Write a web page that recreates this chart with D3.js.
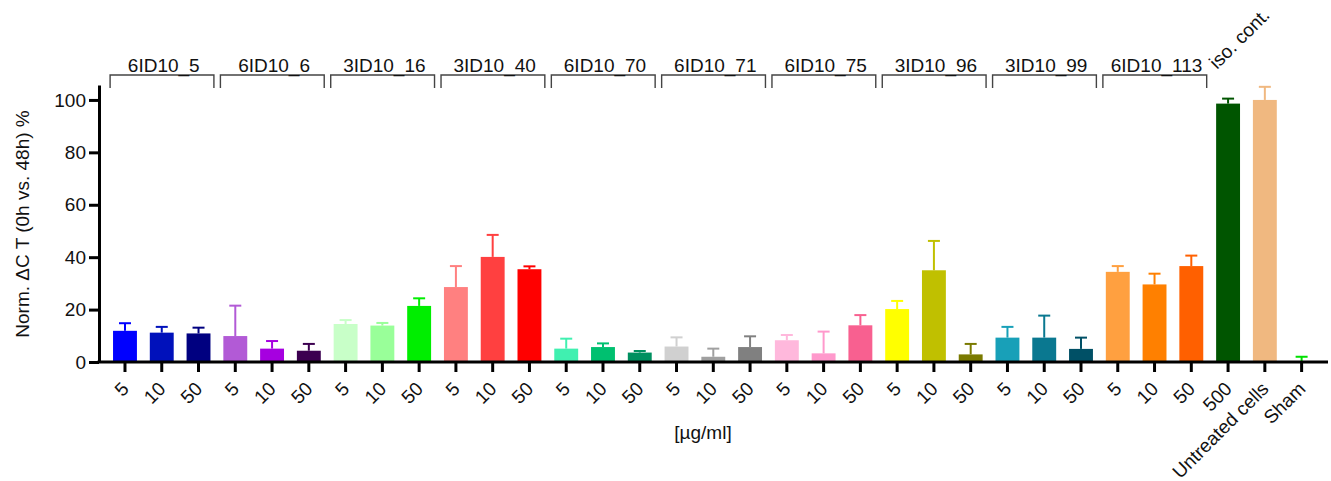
<!DOCTYPE html>
<html>
<head>
<meta charset="utf-8">
<script src="https://cdn.jsdelivr.net/npm/d3@7"></script>
<style>
  body { margin: 0; background: #fff; }
  text { font-family: Arial, "Liberation Sans", sans-serif; fill: #111; }
</style>
</head>
<body>
<div id="chart"></div>
<script>
var w = 1331, h = 481;

// data
var groupNames = ["6ID10_5", "6ID10_6", "3ID10_16", "3ID10_40", "6ID10_70",
                  "6ID10_71", "6ID10_75", "3ID10_96", "3ID10_99", "6ID10_113"];
var tickLabels = ["5", "10", "50", "5", "10", "50", "5", "10", "50", "5", "10", "50",
                  "5", "10", "50", "5", "10", "50", "5", "10", "50", "5", "10", "50",
                  "5", "10", "50", "5", "10", "50", "500", "Untreated cells", "Sham"];
var means = [11.9, 11.2, 10.9, 9.9, 5.1, 4.3, 14.5, 13.9, 21.4, 28.6, 40.1, 35.4,
             5.1, 5.7, 3.6, 5.9, 2.0, 5.7, 8.3, 3.3, 14.0, 20.2, 35.0, 2.9,
             9.3, 9.3, 5.0, 34.4, 29.6, 36.6, 98.6, 100, 0];
var sds = [2.9, 2.2, 2.2, 11.6, 2.9, 2.6, 1.5, 1.0, 2.9, 8.0, 8.4, 1.1,
           3.8, 1.4, 0.6, 3.5, 3.1, 4.1, 2.0, 8.3, 3.9, 3.1, 11.2, 4.0,
           4.1, 8.4, 4.3, 2.2, 4.1, 4.0, 1.9, 5.0, 2.0];
var colors = ["#0000ff", "#0011bb", "#000080", "#b25ad6", "#a600e0", "#3c0050",
              "#c8ffc8", "#99ff99", "#00ee00", "#ff8080", "#ff4040", "#ff0000",
              "#40f0b0", "#00c070", "#009060", "#d0d0d0", "#a0a0a0", "#808080",
              "#ffb8dc", "#ff99cc", "#f86090", "#ffff00", "#c0c000", "#7a7a00",
              "#18a0b8", "#0a7890", "#005066", "#ffa040", "#ff8000", "#ff6000",
              "#005500", "#f0b880", "#00e000"];
var yTicks = [0, 20, 40, 60, 80, 100];

var bars = means.map(function(m, i) {
    return { i: i, label: tickLabels[i], mean: m, sd: sds[i], color: colors[i] };
});

var svg = d3.select("#chart")
    .append("svg")
    .attr("width", w)
    .attr("height", h);

var x = d3.scaleBand()
    .domain(d3.range(bars.length))
    .range([106.6, 1320])
    .paddingInner(0.35)
    .paddingOuter(0.175);

var y = d3.scaleLinear()
    .domain([0, 105.7])
    .range([362, 85]);

var xc = function(i) { return x(i) + x.bandwidth() / 2; };

// bars
svg.append("g")
    .selectAll("rect")
    .data(bars)
    .enter()
    .append("rect")
    .attr("x", function(d) { return x(d.i); })
    .attr("y", function(d) { return y(d.mean); })
    .attr("width", x.bandwidth())
    .attr("height", function(d) { return y(0) - y(d.mean); })
    .attr("fill", function(d) { return d.color; });

// error bars (upper only)
var eb = svg.append("g")
    .selectAll("g")
    .data(bars)
    .enter()
    .append("g")
    .attr("stroke", function(d) { return d.color; })
    .attr("stroke-width", 2);
eb.append("line")
    .attr("x1", function(d) { return xc(d.i); })
    .attr("x2", function(d) { return xc(d.i); })
    .attr("y1", function(d) { return y(d.mean); })
    .attr("y2", function(d) { return y(d.mean + d.sd); });
eb.append("line")
    .attr("x1", function(d) { return xc(d.i) - 6; })
    .attr("x2", function(d) { return xc(d.i) + 6; })
    .attr("y1", function(d) { return y(d.mean + d.sd); })
    .attr("y2", function(d) { return y(d.mean + d.sd); });

// y axis
var yAxis = d3.axisLeft(y)
    .tickValues(yTicks)
    .tickSize(10)
    .tickPadding(3)
    .tickSizeOuter(0);
var gy = svg.append("g")
    .attr("transform", "translate(99,0)")
    .call(yAxis);
gy.select(".domain").attr("stroke", "#000").attr("stroke-width", 3);
gy.selectAll(".tick line").attr("stroke", "#000").attr("stroke-width", 3);
gy.selectAll(".tick text")
    .style("font-size", "19px")
    .style("font-family", "Arial, 'Liberation Sans', sans-serif")
    .attr("fill", "#111");

// x axis
var xAxis = d3.axisBottom(x)
    .tickSize(10)
    .tickFormat(function(i) { return tickLabels[i]; });
var gx = svg.append("g")
    .attr("transform", "translate(0," + y(0) + ")")
    .call(xAxis);
gx.select(".domain").remove();
gx.selectAll(".tick line").attr("stroke", "#000").attr("stroke-width", 3);
gx.selectAll(".tick text")
    .attr("y", 0)
    .attr("dy", 0)
    .attr("transform", "translate(5,28) rotate(-45)")
    .style("text-anchor", "end")
    .style("font-size", "19px")
    .style("font-family", "Arial, 'Liberation Sans', sans-serif")
    .attr("fill", "#111");
svg.append("line")
    .attr("x1", 97.5)
    .attr("x2", 1328)
    .attr("y1", y(0))
    .attr("y2", y(0))
    .attr("stroke", "#000")
    .attr("stroke-width", 3);

// group brackets and names
var step = x.step();
var br = svg.append("g")
    .selectAll("g")
    .data(groupNames)
    .enter()
    .append("g");
br.append("path")
    .attr("d", function(d, g) {
        var x0 = xc(g * 3) - step / 2 + 3.5;
        var x1 = xc(g * 3 + 2) + step / 2 - 3;
        return "M" + x0 + ",88V75H" + x1 + "V88";
    })
    .attr("fill", "none")
    .attr("stroke", "#444")
    .attr("stroke-width", 1.4);
br.append("text")
    .attr("x", function(d, g) { return xc(g * 3 + 1) + 2; })
    .attr("y", 72)
    .attr("text-anchor", "middle")
    .style("font-size", "19px")
    .text(function(d) { return d; });

svg.append("text")
    .attr("transform", "translate(" + (xc(30) - 11) + ",70) rotate(-45)")
    .style("font-size", "19px")
    .text("iso. cont.");

// axis titles
svg.append("text")
    .attr("transform", "translate(29,224) rotate(-90)")
    .attr("text-anchor", "middle")
    .style("font-size", "19px")
    .text("Norm. \u0394C T (0h vs. 48h) %");

svg.append("text")
    .attr("x", 703)
    .attr("y", 439)
    .attr("text-anchor", "middle")
    .style("font-size", "19px")
    .text("[\u00b5g/ml]");
</script>
</body>
</html>
